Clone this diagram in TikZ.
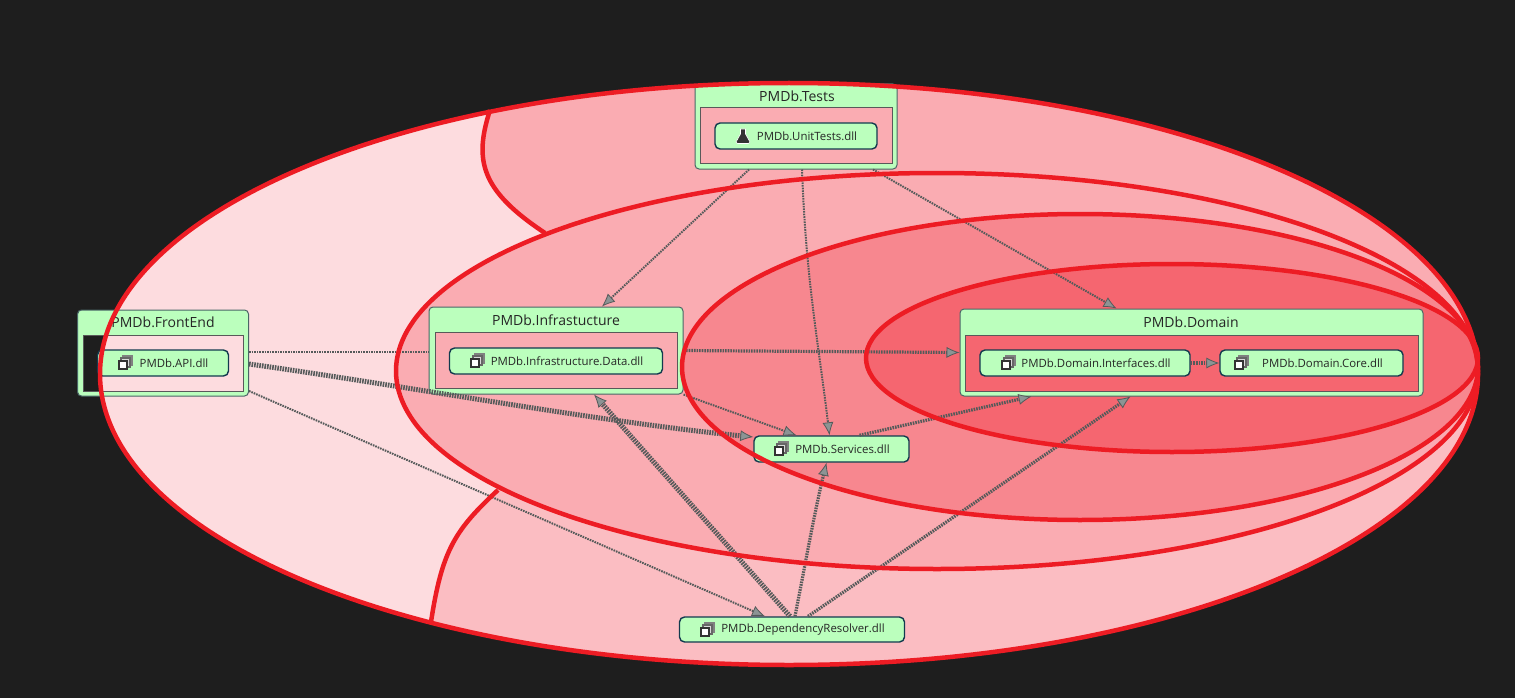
\documentclass[tikz,border=0pt]{standalone}
\usepackage{fontspec}
\setmainfont{Open Sans}
\usetikzlibrary{arrows.meta}
\definecolor{canvasdark}{HTML}{1E1E1E}
\definecolor{ringred}{HTML}{ED1C24}
\definecolor{ringone}{HTML}{FDDCDF}
\definecolor{ringtop}{HTML}{FAACB2}
\definecolor{ringlow}{HTML}{FBBDC2}
\definecolor{ringtwo}{HTML}{FAACB2}
\definecolor{ringthree}{HTML}{F7878F}
\definecolor{ringfour}{HTML}{F56670}
\definecolor{boxgreen}{HTML}{BBFFBD}
\definecolor{groupedge}{HTML}{4A6666}
\definecolor{leafedge}{HTML}{123A4E}
\definecolor{linkgrey}{HTML}{555A5A}
\definecolor{tipgrey}{HTML}{8C9494}
\tikzset{
    groupfill/.style={fill=boxgreen, even odd rule},
    groupbox/.style={draw=groupedge, line width=1pt, rounded corners=4pt, inner sep=0pt},
    groupinner/.style={draw=black!65, line width=1pt, inner sep=0pt},
    grouptitle/.style={text=black!85, font=\fontsize{14}{16}\selectfont, inner sep=0pt},
    leafbox/.style={draw=leafedge, fill=boxgreen, line width=1.4pt, rounded corners=5pt, inner sep=0pt,
        text=black!85, font=\fontsize{11.4}{14}\selectfont, execute at begin node={\hspace*{22pt}}},
    ring/.style={draw=ringred, line width=4.5pt},
    link/.style={draw=linkgrey, line width=2pt, dash pattern=on 1.6pt off 1pt,
        -{Latex[length=13pt, width=11pt, fill=tipgrey, color=linkgrey, line width=0.8pt]}},
    linkmid/.style={link, line width=3.2pt, dash pattern=on 1.6pt off 1pt},
    linkfat/.style={link, line width=5pt, dash pattern=on 1.6pt off 1pt},
    dllicon/.pic={
        \draw[draw=black!50, fill=black!25, line width=1.2pt] (-2,-7) rectangle (7,2);
        \draw[draw=black!60, fill=black!15, line width=1.2pt] (-4,-5) rectangle (5,4);
        \draw[draw=black!80, fill=white, line width=2pt] (-6,-2) rectangle (2,6);
    },
    flaskicon/.pic={
        \fill[black!80, draw=white, line width=0.6pt] (-2.5,-7) -- (2.5,-7) -- (2.5,-2) -- (7,6) -- (5.5,7.5) -- (-5.5,7.5) -- (-7,6) -- (-2.5,-2) -- cycle;
    }
}
\begin{document}
\begin{tikzpicture}[x=1pt, y=-1pt]
    \useasboundingbox (0,0) rectangle (1515,698);
    \fill[canvasdark] (0,0) rectangle (1515,698);

    \fill[ringone] (789,374) ellipse [x radius=689, y radius=291];
    \begin{scope}
        \clip (789,374) ellipse [x radius=689, y radius=291];
        \fill[ringtop] (490,60) -- (490,110) .. controls (474,160) and (480,190) .. (545,233) -- (900,360) -- (1500,360) -- (1500,60) -- cycle;
        \fill[ringlow] (431,622) .. controls (442,550) and (455,530) .. (498,490) -- (900,360) -- (1500,360) -- (1500,690) -- (431,690) -- cycle;
    \end{scope}
    \fill[ringtwo] (937,371) ellipse [x radius=541, y radius=198];
    \fill[ringthree] (1080,367) ellipse [x radius=398, y radius=153];
    \fill[ringfour] (1172,358) ellipse [x radius=306, y radius=94];

    \fill[groupfill, rounded corners=4pt] (695,84) rectangle (897,169) [sharp corners] (700,108) rectangle (892,163);
    \node (tests) [groupbox, minimum width=202pt, minimum height=85pt] at (796,126.5) {};
    \node (testsinner) [groupinner, minimum width=192pt, minimum height=55pt] at (796,135.5) {};
    \node (teststitle) [grouptitle] at (797,96) {PMDb.Tests};
    \node (unittests) [leafbox, minimum width=162pt, minimum height=26pt] at (796,136) {PMDb.UnitTests.dll};
    \pic at (743,136) {flaskicon};

    \fill[groupfill, rounded corners=4pt] (78,310) rectangle (248,396) [sharp corners] (83,335) rectangle (243,391);
    \node (frontend) [groupbox, minimum width=171pt, minimum height=86pt] at (163,353) {};
    \node (frontendinner) [groupinner, minimum width=160pt, minimum height=56pt] at (163,363) {};
    \node (frontendtitle) [grouptitle] at (163,322) {PMDb.FrontEnd};
    \node (api) [leafbox, minimum width=131pt, minimum height=26pt] at (163,363) {PMDb.API.dll};
    \pic at (125,363) {dllicon};

    \fill[groupfill, rounded corners=4pt] (429,307) rectangle (683,394) [sharp corners] (435,332) rectangle (677,388);
    \node (infra) [groupbox, minimum width=254pt, minimum height=87pt] at (556,350.5) {};
    \node (infrainner) [groupinner, minimum width=242pt, minimum height=56pt] at (556,360) {};
    \node (infratitle) [grouptitle] at (556,320) {PMDb.Infrastucture};
    \node (infradata) [leafbox, minimum width=213pt, minimum height=26pt] at (556,361) {PMDb.Infrastructure.Data.dll};
    \pic at (477,361) {dllicon};

    \fill[groupfill, rounded corners=4pt] (960,309) rectangle (1423,396) [sharp corners] (965,335) rectangle (1418,391);
    \node (domain) [groupbox, minimum width=463pt, minimum height=87pt] at (1191.5,352.5) {};
    \node (domaininner) [groupinner, minimum width=453pt, minimum height=56pt] at (1191.5,363) {};
    \node (domaintitle) [grouptitle] at (1191,322) {PMDb.Domain};
    \node (interfaces) [leafbox, minimum width=210pt, minimum height=26pt] at (1085,363) {PMDb.Domain.Interfaces.dll};
    \pic at (1008,363) {dllicon};
    \node (core) [leafbox, minimum width=183pt, minimum height=26pt] at (1311.5,363) {PMDb.Domain.Core.dll};
    \pic at (1241,363) {dllicon};

    \node (services) [leafbox, minimum width=155pt, minimum height=26pt] at (831.5,449) {PMDb.Services.dll};
    \pic at (781,449) {dllicon};

    \node (resolver) [leafbox, minimum width=225pt, minimum height=25pt] at (792,629.5) {PMDb.DependencyResolver.dll};
    \pic at (707,630) {dllicon};

    \draw[link] ([xshift=-47pt]tests.south) -- ([xshift=46pt]infra.north);
    \draw[link] ([xshift=6pt]tests.south) .. controls (806,280) and (818,340) .. ([xshift=-2pt]services.north);
    \draw[link] ([xshift=77pt]tests.south) -- ([xshift=-75pt]domain.north);
    \draw[link, -] ([yshift=1pt]frontend.east) -- ([yshift=-1.5pt]infra.west);
    \draw[linkmid] (infra.east) -- (domain.west);
    \draw[linkfat] ([yshift=-11pt]frontend.east) .. controls (400,385) and (600,422) .. ([yshift=12pt]services.west);
    \draw[link] ([yshift=-38pt]frontend.east) -- ([xshift=-27pt]resolver.north);
    \draw[link] (infra.south east) -- ([xshift=-35pt]services.north);
    \draw[linkmid] ([xshift=28pt]services.north) -- ([xshift=-160pt]domain.south);
    \draw[linkfat] ([xshift=-2pt]resolver.north) -- ([xshift=38pt]infra.south);
    \draw[linkmid] ([xshift=3pt]resolver.north) .. controls (806,560) and (815,510) .. ([xshift=-5pt]services.south);
    \draw[linkmid] ([xshift=16pt]resolver.north) -- ([xshift=-61pt]domain.south);
    \draw[linkmid] (interfaces.east) -- (core.west);

    \draw[ring] (789,374) ellipse [x radius=689, y radius=291];
    \draw[ring] (937,371) ellipse [x radius=541, y radius=198];
    \draw[ring] (1080,367) ellipse [x radius=398, y radius=153];
    \draw[ring] (1172,358) ellipse [x radius=306, y radius=94];
    \draw[ring] (490,110) .. controls (474,160) and (480,190) .. (545,233);
    \draw[ring] (431,622) .. controls (442,550) and (455,530) .. (498,490);
\end{tikzpicture}
\end{document}
